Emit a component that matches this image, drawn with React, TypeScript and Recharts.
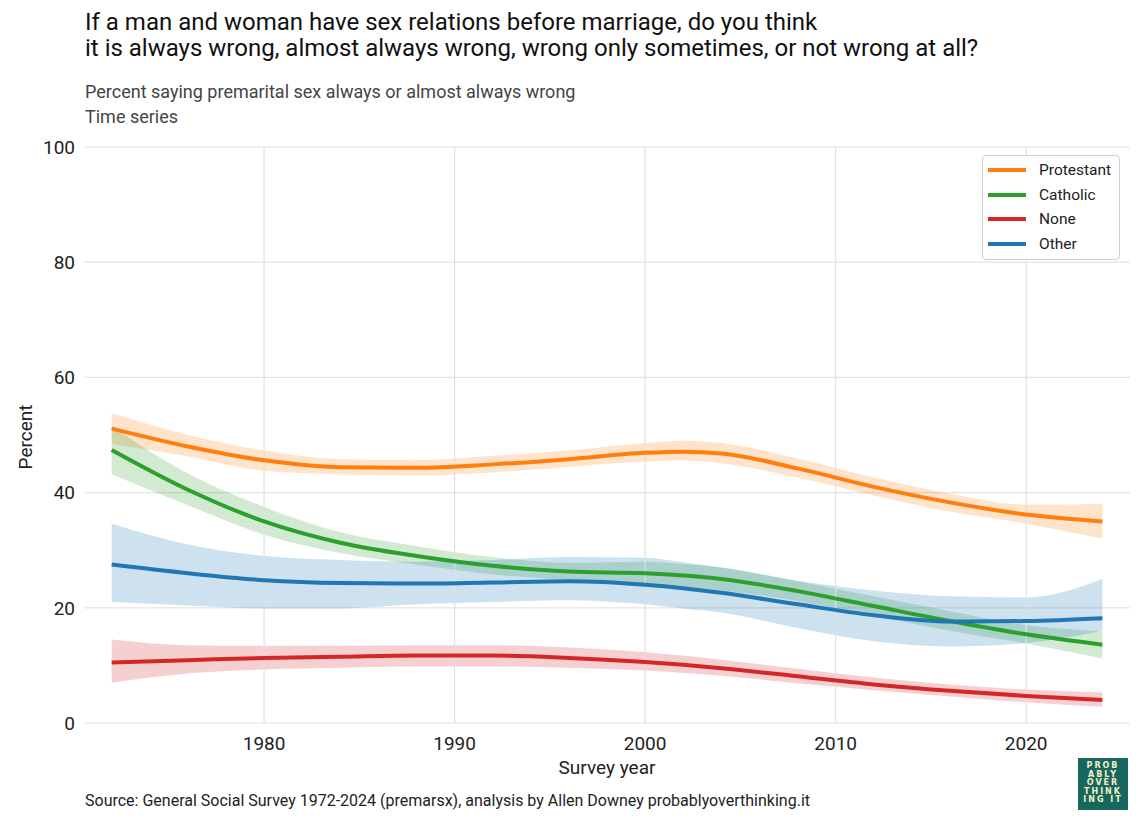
import React from 'react';
import { ComposedChart, Line, Area, XAxis, YAxis, CartesianGrid, ReferenceLine } from 'recharts';

const years = [1972, 1976, 1980, 1984, 1988, 1992, 1996, 2000, 2002, 2004, 2008, 2012, 2016, 2020, 2024];

const protestant = [51.1, 48.0, 45.6, 44.4, 44.3, 44.9, 45.8, 46.9, 47.1, 46.8, 44.2, 41.0, 38.3, 36.2, 35.0];
const protestantLow = [48.5, 46.3, 43.8, 43.2, 43.0, 43.5, 44.5, 45.4, 45.6, 45.1, 42.6, 39.5, 36.7, 34.6, 32.0];
const protestantHigh = [53.8, 50.0, 47.3, 45.8, 45.6, 46.4, 47.3, 48.6, 49.0, 48.6, 45.9, 42.6, 39.8, 37.9, 38.0];

const catholic = [47.4, 40.5, 35.0, 31.3, 29.0, 27.3, 26.3, 26.0, 25.6, 25.0, 22.9, 20.3, 17.7, 15.4, 13.6];
const catholicLow = [43.2, 37.8, 32.7, 29.5, 27.5, 25.8, 24.8, 24.0, 23.6, 23.0, 21.2, 18.6, 16.0, 13.8, 11.2];
const catholicHigh = [51.5, 43.3, 37.5, 33.1, 30.7, 28.8, 27.8, 28.0, 27.6, 27.0, 24.6, 22.0, 19.4, 17.0, 15.9];

const none = [10.5, 10.9, 11.3, 11.5, 11.7, 11.7, 11.3, 10.6, 10.1, 9.5, 8.1, 6.7, 5.6, 4.7, 4.0];
const noneLow = [7.0, 8.6, 9.3, 9.6, 9.8, 9.8, 9.6, 9.1, 8.7, 8.2, 6.9, 5.7, 4.6, 3.6, 2.8];
const noneHigh = [14.5, 13.5, 13.4, 13.4, 13.5, 13.5, 13.1, 12.3, 11.7, 11.0, 9.4, 7.9, 6.7, 5.8, 5.3];

const other = [27.5, 26.0, 24.8, 24.3, 24.2, 24.4, 24.6, 24.0, 23.4, 22.6, 20.6, 18.7, 17.6, 17.7, 18.2];
const otherLow = [21.0, 20.4, 19.9, 19.9, 20.6, 21.0, 21.3, 20.6, 19.9, 19.2, 16.5, 14.2, 13.3, 13.9, 16.0];
const otherHigh = [34.6, 31.0, 29.0, 28.3, 28.0, 28.3, 28.8, 28.7, 27.9, 27.0, 24.7, 23.0, 22.0, 21.8, 25.0];

const xTicks = [1980, 1990, 2000, 2010, 2020];
const yTicks = [0, 20, 40, 60, 80, 100];

const SERIES = [
    { key: 'protestant', name: 'Protestant', color: '#ff7f0e' },
    { key: 'catholic', name: 'Catholic', color: '#2ca02c' },
    { key: 'none', name: 'None', color: '#d62728' },
    { key: 'other', name: 'Other', color: '#1f77b4' },
];

const FONT = 'Roboto, "Noto Sans", sans-serif';

const data = years.map((year, i) => ({
    year,
    protestant: protestant[i],
    protestantBand: [protestantLow[i], protestantHigh[i]],
    catholic: catholic[i],
    catholicBand: [catholicLow[i], catholicHigh[i]],
    none: none[i],
    noneBand: [noneLow[i], noneHigh[i]],
    other: other[i],
    otherBand: [otherLow[i], otherHigh[i]],
}));

const LegendBox = () => (
    <div
        style={{
            position: 'absolute',
            left: 982,
            top: 155,
            width: 138,
            boxSizing: 'border-box',
            background: '#fff',
            border: '1px solid #d0d0d0',
            borderRadius: 4,
            padding: '2px 6px 3px 5px',
            fontFamily: FONT,
            fontSize: 15.5,
            color: '#222',
        }}
    >
        {SERIES.map((s) => (
            <div key={s.key} style={{ display: 'flex', alignItems: 'center', height: 24.6 }}>
                <span style={{ display: 'inline-block', width: 38, height: 4, background: s.color, marginRight: 13 }} />
                <span>{s.name}</span>
            </div>
        ))}
    </div>
);

export default function App() {
    return (
        <div style={{ position: 'absolute', left: 0, top: 0, width: 1145, height: 826, background: '#fff', fontFamily: FONT }}>
            <div style={{ position: 'absolute', left: 85, top: 9, fontSize: 24, lineHeight: '26px', color: '#111' }}>
                If a man and woman have sex relations before marriage, do you think
                <br />
                it is always wrong, almost always wrong, wrong only sometimes, or not wrong at all?
            </div>
            <div style={{ position: 'absolute', left: 85, top: 79, fontSize: 18, lineHeight: '25px', color: '#444' }}>
                Percent saying premarital sex always or almost always wrong
                <br />
                Time series
            </div>

            <ComposedChart
                width={1145}
                height={826}
                data={data}
                margin={{ top: 147, right: 15, bottom: 63, left: 45 }}
                style={{ position: 'absolute', left: 0, top: 0 }}
            >
                <CartesianGrid stroke="#e3e3e3" strokeWidth={1.2} vertical={false} />
                {xTicks.map((t) => (
                    <ReferenceLine key={t} x={t} stroke="#e0e0e0" strokeWidth={1.2} />
                ))}
                <XAxis
                    dataKey="year"
                    type="number"
                    domain={[1970.6, 2025.45]}
                    allowDataOverflow
                    ticks={xTicks}
                    axisLine={false}
                    tickLine={false}
                    tickMargin={8}
                    tick={{ fontSize: 19, fill: '#222', fontFamily: FONT }}
                    height={40}
                />
                <YAxis
                    type="number"
                    domain={[0, 100]}
                    ticks={yTicks}
                    axisLine={false}
                    tickLine={false}
                    tickMargin={4}
                    tick={{ fontSize: 19, fill: '#222', fontFamily: FONT }}
                    width={40}
                />
                {SERIES.map((s) => (
                    <Area
                        key={`${s.key}-band`}
                        dataKey={`${s.key}Band`}
                        type="monotone"
                        stroke="none"
                        fill={s.color}
                        fillOpacity={0.22}
                        isAnimationActive={false}
                        legendType="none"
                    />
                ))}
                {SERIES.map((s) => (
                    <Line
                        key={s.key}
                        dataKey={s.key}
                        name={s.name}
                        type="monotone"
                        stroke={s.color}
                        strokeWidth={4}
                        dot={false}
                        isAnimationActive={false}
                    />
                ))}
            </ComposedChart>

            <LegendBox />

            <div
                style={{
                    position: 'absolute',
                    left: 25,
                    top: 437,
                    transform: 'translate(-50%, -50%) rotate(-90deg)',
                    fontSize: 19,
                    color: '#222',
                }}
            >
                Percent
            </div>
            <div style={{ position: 'absolute', left: 607, top: 767, transform: 'translate(-50%, -50%)', fontSize: 19, color: '#222' }}>
                Survey year
            </div>
            <div style={{ position: 'absolute', left: 85, top: 791, fontSize: 16, color: '#222' }}>
                Source: General Social Survey 1972-2024 (premarsx), analysis by Allen Downey probablyoverthinking.it
            </div>
            <div
                style={{
                    position: 'absolute',
                    left: 1078,
                    top: 758,
                    width: 50,
                    height: 52,
                    background: '#17675e',
                    color: '#f4f1c6',
                    fontFamily: '"DejaVu Sans", sans-serif',
                    fontWeight: 700,
                    fontSize: 8,
                    lineHeight: '8.6px',
                    letterSpacing: 2,
                    textAlign: 'center',
                    paddingTop: 4,
                    boxSizing: 'border-box',
                }}
            >
                PROB<br />ABLY<br />OVER<br />THINK<br />ING IT
            </div>
        </div>
    );
}
